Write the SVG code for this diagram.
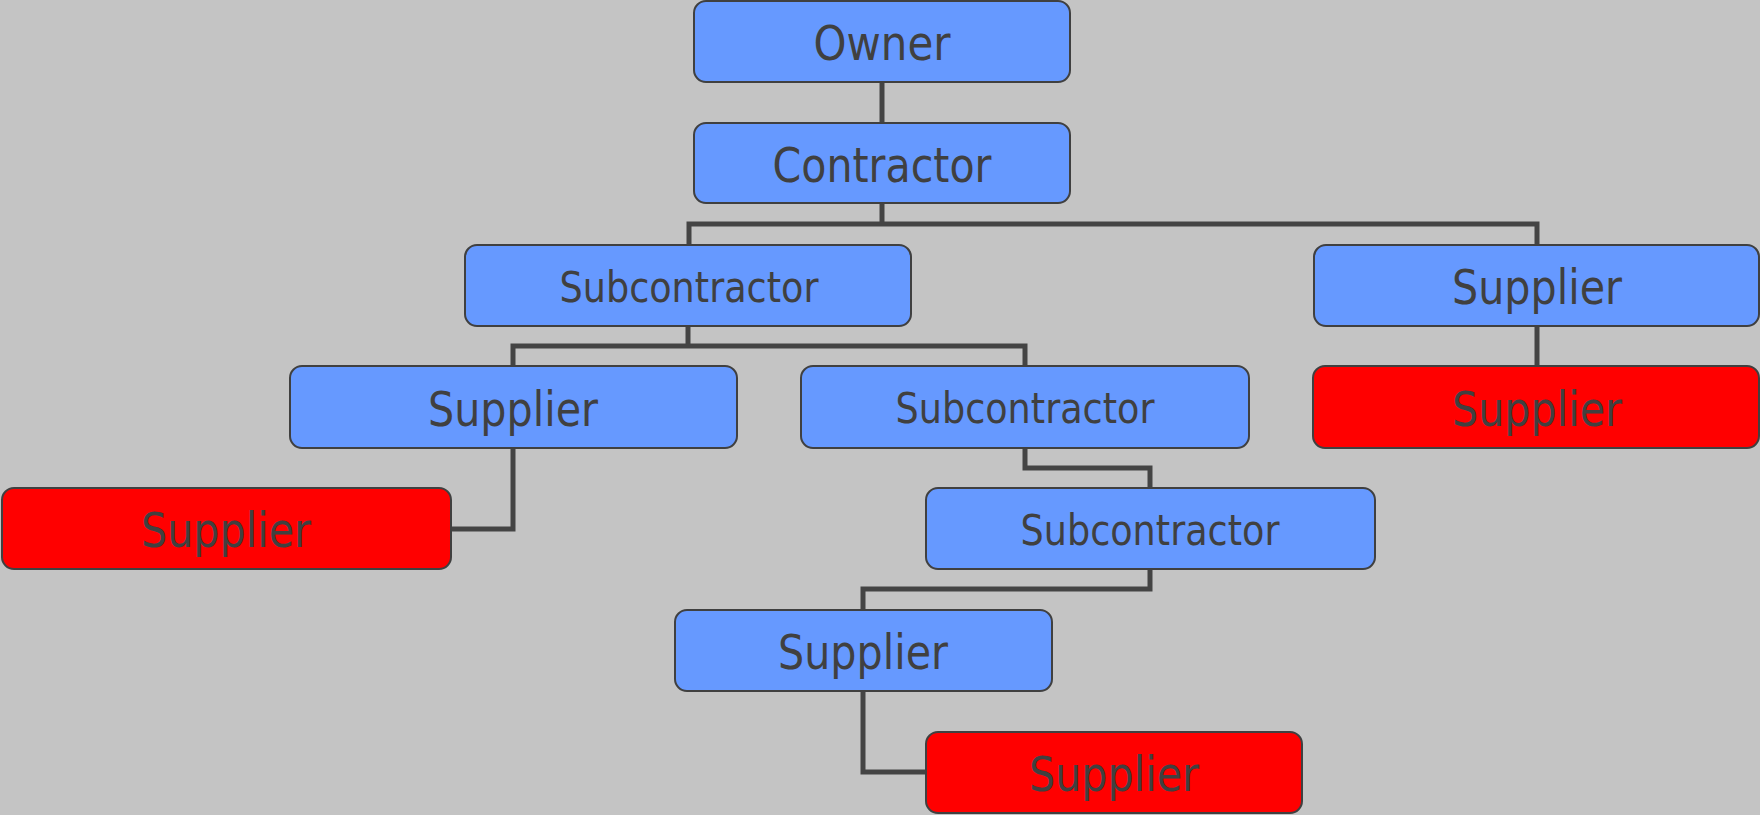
<svg xmlns="http://www.w3.org/2000/svg" width="1760" height="815" viewBox="0 0 1760 815">
<style>
.bg{fill:#c4c4c4}
.box{fill:#6699ff;stroke:#404040;stroke-width:2}
.red{fill:#ff0000;stroke:#404040;stroke-width:2}
.lbl{font-family:"DejaVu Sans",Verdana,sans-serif;fill:#404040;text-anchor:middle}
.big{font-size:48px}
.sm{font-size:43px}
.conn{fill:none;stroke:#444444;stroke-width:5;stroke-linejoin:miter;stroke-linecap:square}
</style>
<rect class="bg" x="0" y="0" width="1760" height="815"/>
<g id="connectors">
<path class="conn" d="M882,82 V123"/>
<path class="conn" d="M882,203 V224 M689,245 V224 H1537 V245"/>
<path class="conn" d="M688,326 V346 M513,366 V346 H1025 V366"/>
<path class="conn" d="M1537,326 V366"/>
<path class="conn" d="M513,448 V529 H451"/>
<path class="conn" d="M1025,448 V468 H1150 V488"/>
<path class="conn" d="M1150,569 V589 H863 V610"/>
<path class="conn" d="M863,691 V772 H926"/>
</g>
<g id="owner">
<rect class="box" x="694" y="1" width="376" height="81" rx="12"/>
<text class="lbl big" x="882" y="60" textLength="137" lengthAdjust="spacingAndGlyphs">Owner</text>
</g>
<g id="contractor">
<rect class="box" x="694" y="123" width="376" height="80" rx="12"/>
<text class="lbl big" x="882" y="182" textLength="219" lengthAdjust="spacingAndGlyphs">Contractor</text>
</g>
<g id="subcontractor1">
<rect class="box" x="465" y="245" width="446" height="81" rx="12"/>
<text class="lbl sm" x="689" y="302" textLength="259" lengthAdjust="spacingAndGlyphs">Subcontractor</text>
</g>
<g id="supplier-right">
<rect class="box" x="1314" y="245" width="445" height="81" rx="12"/>
<text class="lbl big" x="1537" y="304" textLength="170" lengthAdjust="spacingAndGlyphs">Supplier</text>
</g>
<g id="supplier-left">
<rect class="box" x="290" y="366" width="447" height="82" rx="12"/>
<text class="lbl big" x="513" y="426" textLength="170" lengthAdjust="spacingAndGlyphs">Supplier</text>
</g>
<g id="subcontractor2">
<rect class="box" x="801" y="366" width="448" height="82" rx="12"/>
<text class="lbl sm" x="1025" y="423" textLength="259" lengthAdjust="spacingAndGlyphs">Subcontractor</text>
</g>
<g id="supplier-red-right">
<rect class="red" x="1313" y="366" width="446" height="82" rx="12"/>
<text class="lbl big" x="1537" y="426" textLength="170" lengthAdjust="spacingAndGlyphs">Supplier</text>
</g>
<g id="supplier-red-left">
<rect class="red" x="2" y="488" width="449" height="81" rx="12"/>
<text class="lbl big" x="226" y="547" textLength="170" lengthAdjust="spacingAndGlyphs">Supplier</text>
</g>
<g id="subcontractor3">
<rect class="box" x="926" y="488" width="449" height="81" rx="12"/>
<text class="lbl sm" x="1150" y="545" textLength="259" lengthAdjust="spacingAndGlyphs">Subcontractor</text>
</g>
<g id="supplier-bottom">
<rect class="box" x="675" y="610" width="377" height="81" rx="12"/>
<text class="lbl big" x="863" y="669" textLength="170" lengthAdjust="spacingAndGlyphs">Supplier</text>
</g>
<g id="supplier-red-bottom">
<rect class="red" x="926" y="732" width="376" height="81" rx="12"/>
<text class="lbl big" x="1114" y="791" textLength="170" lengthAdjust="spacingAndGlyphs">Supplier</text>
</g>
</svg>
